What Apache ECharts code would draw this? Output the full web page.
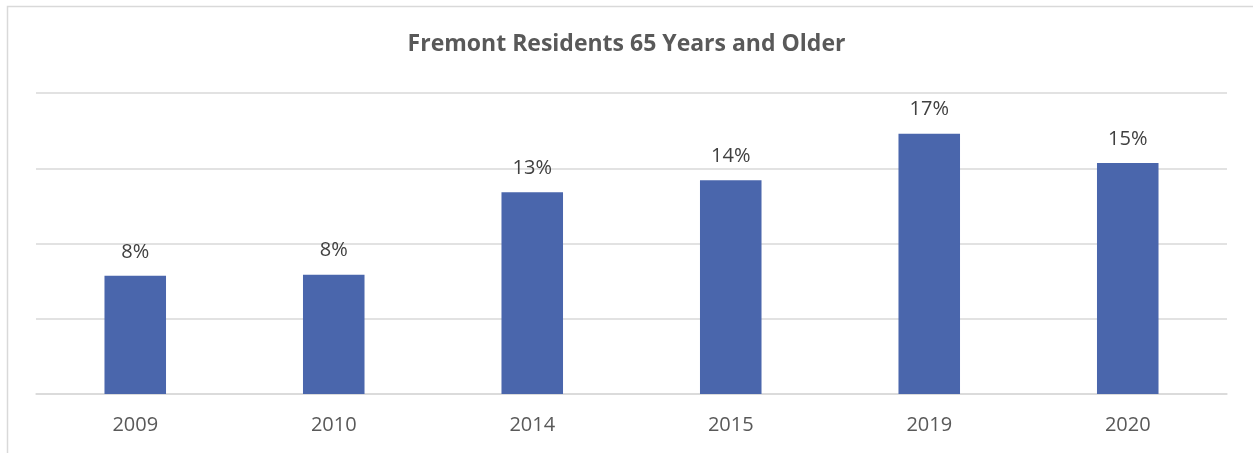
<!DOCTYPE html>
<html>
<head>
<meta charset="utf-8">
<script src="https://cdn.jsdelivr.net/npm/echarts@6/dist/echarts.min.js"></script>
<style>
  html, body { margin: 0; padding: 0; background: #fff; }
  #chart { width: 1253px; height: 453px; }
</style>
</head>
<body>
<div id="chart"></div>
<script>
const years = ['2009', '2010', '2014', '2015', '2019', '2020']
const shareOver65 = [7.85, 7.93, 13.4, 14.2, 17.3, 15.35]
const yTicks = { min: 0, max: 20, interval: 5 }

const chart = echarts.init(document.getElementById('chart'))
const option = {
  backgroundColor: '#fff',
  animation: false,
  title: {
    text: 'Fremont Residents 65 Years and Older',
    left: 'center',
    top: 28,
    textStyle: {
      fontFamily: 'Open Sans',
      fontWeight: 'bold',
      fontSize: 23,
      color: '#595959'
    }
  },
  graphic: [
    {
      type: 'rect',
      shape: { x: 7.5, y: 6.5, width: 1270, height: 470 },
      style: { fill: null, stroke: '#d9d9d9', lineWidth: 1.5 },
      silent: true
    }
  ],
  grid: {
    left: 36,
    right: 26,
    top: 93,
    bottom: 59
  },
  xAxis: {
    type: 'category',
    data: years,
    axisLine: { lineStyle: { color: '#d9d9d9', width: 1.5 } },
    axisTick: { show: false },
    axisLabel: {
      margin: 21,
      fontFamily: 'Open Sans',
      fontSize: 20,
      color: '#595959'
    }
  },
  yAxis: {
    type: 'value',
    min: yTicks.min,
    max: yTicks.max,
    interval: yTicks.interval,
    axisLabel: { show: false },
    axisLine: { show: false },
    axisTick: { show: false },
    splitLine: { lineStyle: { color: '#d9d9d9', width: 1.5 } }
  },
  series: [
    {
      type: 'bar',
      data: shareOver65,
      barWidth: '31%',
      itemStyle: { color: '#4a66ac' },
      label: {
        show: true,
        position: 'top',
        distance: 14,
        fontFamily: 'Open Sans',
        fontSize: 20,
        color: '#404040',
        formatter: p => Math.round(p.value) + '%'
      }
    }
  ]
}
chart.setOption(option)

window.addEventListener('resize', () => {
  chart.resize()
})
</script>
</body>
</html>
